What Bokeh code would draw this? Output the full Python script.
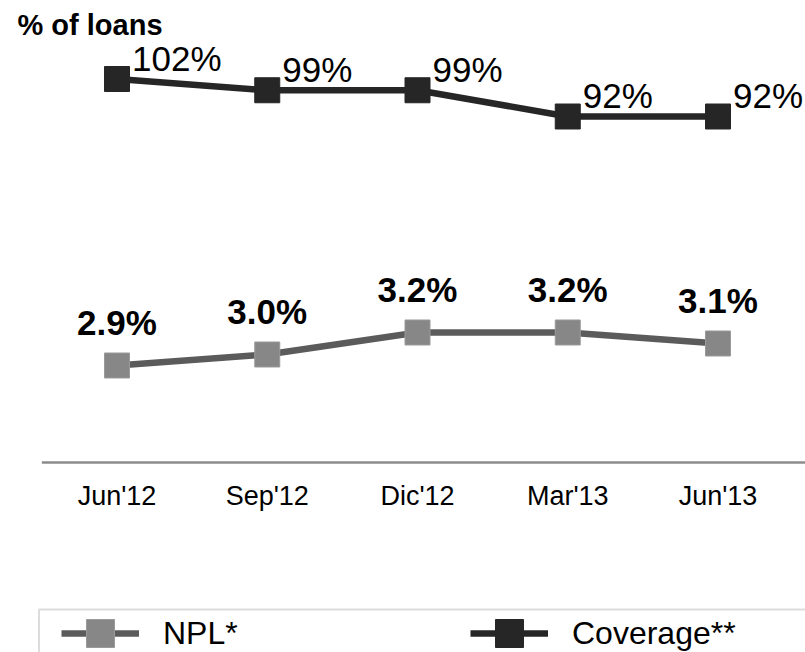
from bokeh.plotting import figure
from bokeh.models import ColumnDataSource, Range1d, Legend, LegendItem, Label, BoxAnnotation
from bokeh.core.properties import value
from bokeh.embed import file_html
from bokeh.resources import INLINE

# ---- data ----
categories = ["Jun'12", "Sep'12", "Dic'12", "Mar'13", "Jun'13"]
npl = [2.9, 3.0, 3.2, 3.2, 3.1]
coverage = [102, 99, 99, 92, 92]
npl_labels = [f"{v:.1f}%" for v in npl]
coverage_labels = [f"{v}%" for v in coverage]
xs = list(range(len(categories)))

FONT_NAME = "Liberation Sans"
FONT = value(FONT_NAME)

src = ColumnDataSource(dict(x=xs, cat=categories, npl=npl, cov=coverage,
                            npl_lab=npl_labels, cov_lab=coverage_labels))

W, H = 805, 652
X0 = -0.7754
Y0 = 0.2909
p = figure(width=W, height=H, output_backend="svg", toolbar_location=None,
           x_axis_location=None, y_axis_location=None, min_border=0,
           x_range=Range1d(X0, X0 + W / 150.25),
           y_range=Range1d(Y0, Y0 + H / 110.0))
p.outline_line_color = None
p.xgrid.visible = False
p.ygrid.visible = False
p.background_fill_color = "white"
p.border_fill_color = "white"
C0 = -50.93
p.extra_y_ranges = {"cov": Range1d(C0, C0 + H / 3.75)}

AXIS_Y = 2.018

# axis baseline
p.segment(x0=[-0.5], y0=[AXIS_Y], x1=[6], y1=[AXIS_Y], line_color="#8c8c8c", line_width=2.5)

# category labels
p.text(x=[float(v) for v in xs], y=[AXIS_Y] * len(xs), text=categories,
       text_font=FONT, text_font_size="27px", text_color="#000000",
       text_align="center", text_baseline="alphabetic", y_offset=33)

# NPL series
npl_line = p.line("x", "npl", source=src, line_color="#5b5b5b", line_width=6.5)
npl_pts = p.scatter("x", "npl", source=src, marker="square", size=25,
                    fill_color="#878787", line_color="#9a9a9a", line_width=1)
p.text("x", "npl", text="npl_lab", source=src, text_font=FONT, text_font_style="bold",
       text_font_size="35px", text_color="#000000", text_align="center",
       text_baseline="alphabetic", y_offset=-43)

# Coverage series
cov_line = p.line("x", "cov", source=src, y_range_name="cov", line_color="#262626", line_width=6.5)
cov_pts = p.scatter("x", "cov", source=src, y_range_name="cov", marker="square", size=25,
                    fill_color="#262626", line_color="#262626", line_width=1)
p.text("x", "cov", text="cov_lab", source=src, y_range_name="cov", text_font=FONT,
       text_font_size="35px", text_color="#000000", text_align="left",
       text_baseline="alphabetic", x_offset=15, y_offset=-21)

# title-ish label
p.add_layout(Label(x=17, y=H - 24, x_units="screen", y_units="screen", text="% of loans",
                   text_font=FONT_NAME, text_font_style="bold", text_font_size="29px",
                   text_color="#000000", text_baseline="alphabetic"))

# legend frame
p.add_layout(BoxAnnotation(left=-0.519, right=10, top=Y0 + 43 / 110.0, bottom=-10,
                           fill_alpha=0, line_color="#8c8c8c", line_width=2))

legend = Legend(items=[LegendItem(label="NPL*", renderers=[npl_line, npl_pts]),
                       LegendItem(label="Coverage**", renderers=[cov_line, cov_pts])],
                orientation="horizontal", location=(56, -21), margin=0, padding=5,
                glyph_width=78, glyph_height=70, label_standoff=24, label_width=300,
                spacing=7, border_line_alpha=0, background_fill_alpha=0,
                label_text_font=FONT_NAME, label_text_font_size="32px", label_text_color="#000000")
p.add_layout(legend)

open("out.html", "w").write(file_html(p, INLINE))
